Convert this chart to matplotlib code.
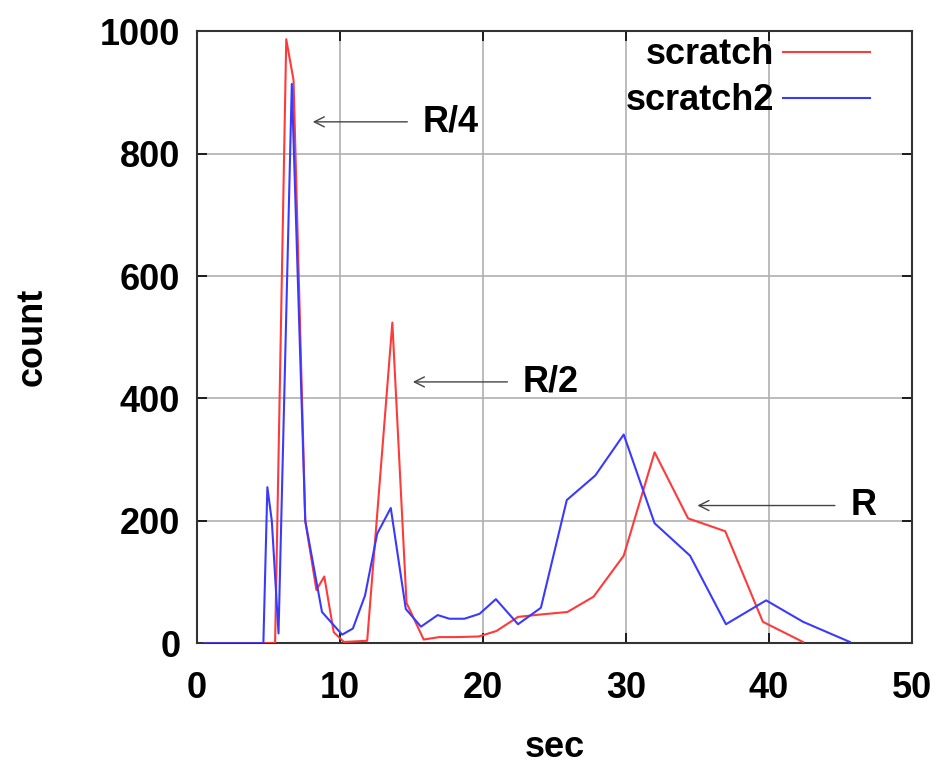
import matplotlib
matplotlib.use('Agg')
import matplotlib.pyplot as plt

plt.rcParams['font.family'] = ['Liberation Sans', 'DejaVu Sans']
plt.rcParams['font.weight'] = 'bold'

# histogram of run times (sec -> count)
scratch_x = [0.5, 1.5, 2.5, 3.5, 4.5, 5.46, 6.24, 6.75, 7.57, 8.35, 8.9, 9.56,
             10.27, 11.9, 13.66, 14.65, 15.85, 16.95, 18.2, 19.7, 20.94, 22.45,
             24.05, 25.9, 27.73, 29.84, 32.0, 34.34, 36.94, 39.57, 42.38]
scratch_y = [0, 0, 0, 0, 0, 0, 987, 920, 200, 87, 109, 18,
             2, 4, 524, 66, 6, 10, 10, 11, 20, 43,
             47, 51, 76, 143, 312, 204, 183, 35, 2]

scratch2_x = [0.5, 1.5, 2.5, 3.5, 4.64, 4.92, 5.23, 5.7, 6.63, 7.57, 8.74,
              10.15, 10.9, 11.75, 12.6, 13.55, 14.6, 15.66, 16.83, 17.65, 18.7,
              19.76, 20.9, 22.45, 24.05, 25.86, 27.85, 29.84, 32.0, 34.48,
              36.99, 39.8, 42.38, 45.66]
scratch2_y = [0, 0, 0, 0, 0, 255, 200, 16, 914, 200, 51,
              14, 24, 78, 179, 221, 56, 27, 46, 40, 40,
              48, 72, 31, 58, 234, 274, 341, 196, 143,
              31, 70, 35, 2]

# annotations: label, arrow head (x, y), arrow tail x
notes = [('R/4', 7.9, 852, 14.9),
         ('R/2', 14.9, 427, 21.9),
         ('R', 34.8, 225, 44.8)]

FS = 26

fig = plt.figure(figsize=(9.49, 7.63), dpi=100)
ax = fig.add_axes([0.2076, 0.157, 0.7534, 0.802])

ax.plot(scratch_x, scratch_y, color='#ff3a3a', lw=1.5, label='scratch',
        zorder=3)
ax.plot(scratch2_x, scratch2_y, color='#3a3aff', lw=1.5, label='scratch2',
        zorder=3)

for label, hx, hy, tx in notes:
    ax.annotate('', xy=(hx, hy), xytext=(tx, hy),
                arrowprops=dict(arrowstyle='->', color='#444444', lw=1.0,
                                mutation_scale=18))
    ax.text(tx + 0.9, hy, label, fontsize=FS, fontweight='bold',
            va='center', ha='left')

ax.set_xlim(0, 50)
ax.set_ylim(0, 1000)
ax.set_xticks([0, 10, 20, 30, 40, 50])
ax.set_yticks([0, 200, 400, 600, 800, 1000])
ax.grid(True, color='#b0b0b0', lw=1.2)
ax.tick_params(direction='in', length=7, width=1.2, top=True, right=True,
               labelsize=FS)
ax.tick_params(axis='x', pad=20)
ax.tick_params(axis='y', pad=12)
for lbl in ax.get_xticklabels() + ax.get_yticklabels():
    lbl.set_fontweight('bold')
for sp in ax.spines.values():
    sp.set_linewidth(1.5)
    sp.set_color('#333333')

ax.set_xlabel('sec', fontsize=FS, fontweight='bold', labelpad=17)
ax.set_ylabel('count', fontsize=FS, fontweight='bold', labelpad=36)

ax.legend(loc='upper right', bbox_to_anchor=(0.941, 0.99), frameon=False,
          markerfirst=False, fontsize=FS, handlelength=2.4, handletextpad=0.25,
          labelspacing=0.3, borderpad=0, borderaxespad=0)

fig.savefig('out.png', dpi=100)
